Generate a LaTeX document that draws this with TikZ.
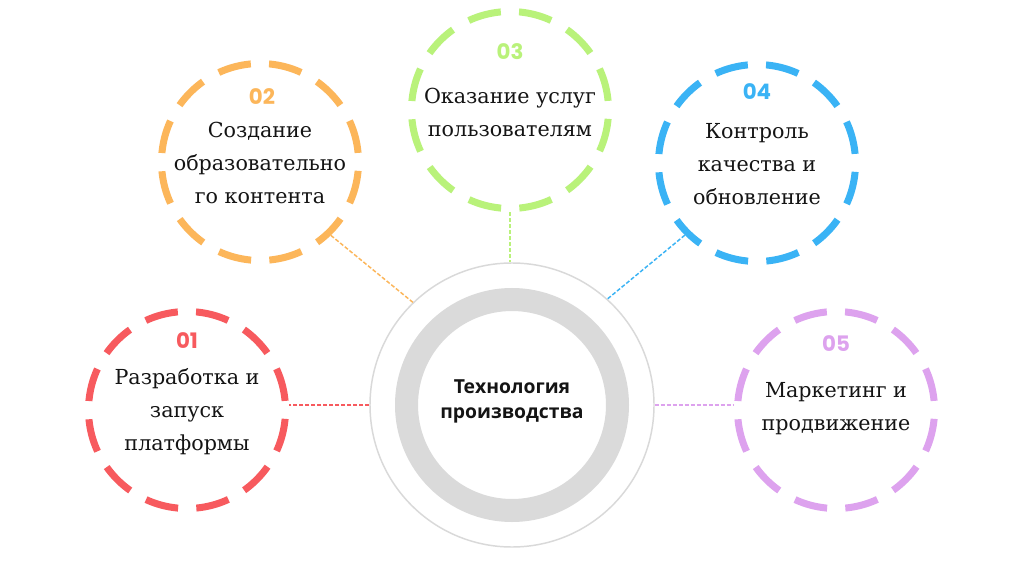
\documentclass[tikz,border=0pt]{standalone}
\usepackage{fontspec}
\setmainfont{DejaVu Serif}
\newfontfamily\numfont{Poppins}
\newfontfamily\ctrfont{Open Sans}
\definecolor{cred}{HTML}{F75A5E}
\definecolor{corange}{HTML}{FCB65A}
\definecolor{cgreen}{HTML}{B9F27A}
\definecolor{cblue}{HTML}{3AB3F5}
\definecolor{cviolet}{HTML}{DDA2EE}
\definecolor{thingray}{HTML}{D9D9D9}
\definecolor{ringgray}{HTML}{DADADA}
\definecolor{txt}{HTML}{141414}
\begin{document}
\begin{tikzpicture}[x=0.75pt,y=-0.75pt,
  bigring/.style={circle, draw=#1, line width=5.25pt, minimum size=147.75pt, inner sep=0pt,
    dash pattern=on 25pt off 13.7pt, dash phase=31.85pt},
  numlbl/.style={font=\numfont\bfseries\fontsize{16}{19}\selectfont, text=#1, inner sep=0pt},
  textlbl/.style={font=\fontsize{15.5}{24.75}\selectfont, align=center, text=txt, inner sep=0pt},
  link/.style={draw=#1, line width=1.1pt, dash pattern=on 3pt off 1.5pt}]
\fill[white] (0,0) rectangle (1024,574);
\useasboundingbox (0,0) rectangle (1024,574);

% center
\node[circle, draw=thingray, line width=1.1pt, minimum size=213pt, inner sep=0pt] (c) at (512,405) {};
\node[circle, draw=ringgray, line width=17.25pt, minimum size=158.25pt, inner sep=0pt] (ring) at (512,405) {};
\node[font=\ctrfont\bfseries\fontsize{14.5}{18.75}\selectfont, align=center, text=txt, inner sep=0pt] (ct) at (512,401) {Технология\\производства};

% 01
\node[bigring=cred] (n1) at (187,410) {};
\node[numlbl=cred] (t1) at (187,341) {01};
\node[textlbl] (l1) at (187,412) {Разработка и\\запуск\\платформы};

% 02
\node[bigring=corange] (n2) at (260,162) {};
\node[numlbl=corange] (t2) at (262,97) {02};
\node[textlbl] (l2) at (260,163) {Создание\\образовательно\\го контента};

% 03
\node[bigring=cgreen] (n3) at (510,110) {};
\node[numlbl=cgreen] (t3) at (510,52) {03};
\node[textlbl] (l3) at (510,112.5) {Оказание услуг\\пользователям};

% 04
\node[bigring=cblue] (n4) at (757,163) {};
\node[numlbl=cblue] (t4) at (757,92) {04};
\node[textlbl] (l4) at (757,164) {Контроль\\качества и\\обновление};

% 05
\node[bigring=cviolet] (n5) at (836,410) {};
\node[numlbl=cviolet] (t5) at (836,344) {05};
\node[textlbl] (l5) at (836,409) {Маркетинг и\\продвижение};

% connectors
\draw[link=cred] (c.west) -- (c.west -| n1.east);
\draw[link=corange] (n2.314) -- (c.134);
\draw[link=cgreen] (n3.south) -- (n3.south |- c.north);
\draw[link=cblue] (n4.225) -- (c.48);
\draw[link=cviolet] (c.east) -- (c.east -| n5.west);
\end{tikzpicture}
\end{document}
